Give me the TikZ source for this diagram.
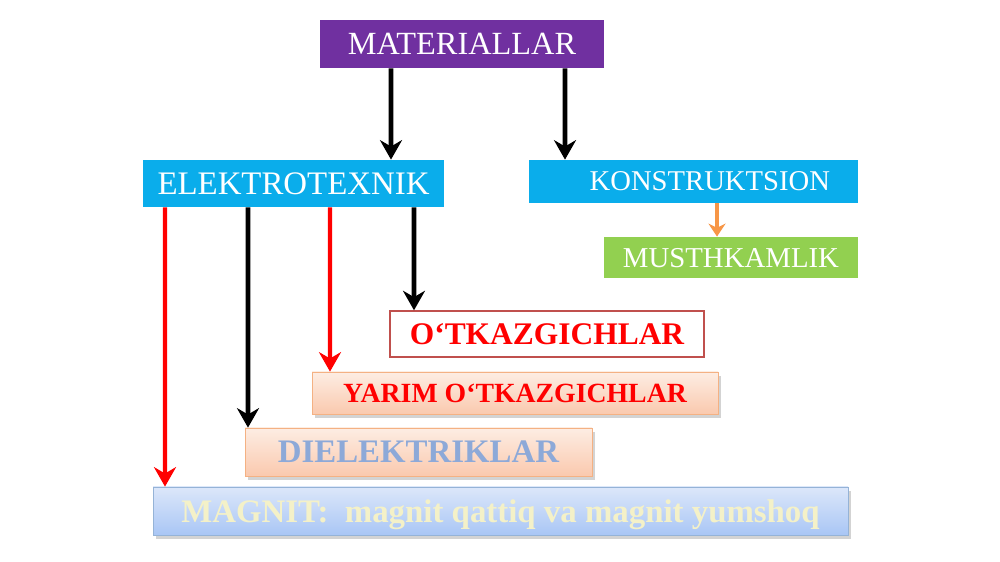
\documentclass[tikz,border=0pt]{standalone}
\usepackage{fontspec}
\setmainfont{Liberation Serif}
\usetikzlibrary{arrows.meta, shadows}

\definecolor{matpurple}{HTML}{7030A0}
\definecolor{secblue}{HTML}{0AADEB}
\definecolor{strgreen}{HTML}{92D050}
\definecolor{arrorange}{HTML}{F79646}
\definecolor{otkborder}{HTML}{C0504D}
\definecolor{peachtop}{HTML}{FDEDE3}
\definecolor{peachbot}{HTML}{FAC9AE}
\definecolor{peachborder}{HTML}{F4B183}
\definecolor{dieltext}{HTML}{8DA9D8}
\definecolor{magtop}{HTML}{DCE7FA}
\definecolor{magbot}{HTML}{A9C6F5}
\definecolor{magborder}{HTML}{95B3D7}
\definecolor{magtext}{HTML}{F4F1C8}

\begin{document}
\begin{tikzpicture}[
  every node/.style={inner sep=0pt, align=center, text depth=0pt},
  flatbox/.style={fill=#1, text=white},
  peachbox/.style={draw=peachborder, top color=peachtop, bottom color=peachbot,
    drop shadow={shadow xshift=0.6mm, shadow yshift=-0.8mm, opacity=0.35}},
  arrow/.style={-{Stealth[length=3.9mm, width=4.4mm]}, line width=2.8pt},
  redarrow/.style={arrow, red, line width=2.3pt}
]
\useasboundingbox (0,0) rectangle (20,-11.24);

% top level
\node[flatbox=matpurple, minimum width=5.68cm, minimum height=0.96cm,
  font=\fontsize{18.4}{21}\selectfont] (mat) at (9.24,-0.88) {MATERIALLAR};

% two groups
\node[flatbox=secblue, minimum width=6.02cm, minimum height=0.94cm,
  font=\fontsize{18.7}{22}\selectfont] (elek) at (5.87,-3.67) {ELEKTROTEXNIK};
\node[flatbox=secblue, minimum width=6.58cm, minimum height=0.86cm,
  text width=5.46cm, align=right,
  font=\fontsize{16.3}{19}\selectfont] (kon) at (13.87,-3.63) {KONSTRUKTSION};
\node[flatbox=strgreen, minimum width=5.08cm, minimum height=0.82cm,
  font=\fontsize{16.4}{19}\selectfont] (mus) at (14.62,-5.15) {MUSTHKAMLIK};

% electrotechnical materials
\node[draw=otkborder, line width=0.8pt, fill=white, text=red, minimum width=6.28cm,
  minimum height=0.92cm, font=\bfseries\fontsize{17.9}{21}\selectfont]
  (otk) at (10.94,-6.68) {O‘TKAZGICHLAR};
\node[peachbox, text=red, minimum width=8.12cm, minimum height=0.84cm,
  font=\bfseries\fontsize{15.8}{19}\selectfont]
  (yarim) at (10.30,-7.86) {YARIM O‘TKAZGICHLAR};
\node[peachbox, text=dieltext, minimum width=6.94cm, minimum height=0.96cm,
  font=\bfseries\fontsize{18.7}{22}\selectfont]
  (diel) at (8.37,-9.04) {DIELEKTRIKLAR};
\node[draw=magborder, top color=magtop, bottom color=magbot, text=magtext,
  drop shadow={shadow xshift=0.6mm, shadow yshift=-0.8mm, opacity=0.35},
  minimum width=13.9cm, minimum height=0.96cm,
  font=\bfseries\fontsize{18.7}{22}\selectfont]
  (mag) at (10.01,-10.22) {MAGNIT:~ magnit qattiq va magnit yumshoq};

% connectors
\draw[arrow] ([xshift=-1.42cm]mat.south) -- ([xshift=1.95cm]elek.north);
\draw[arrow] ([xshift=2.06cm]mat.south) -- ([xshift=-2.57cm]kon.north);
\draw[redarrow] ([xshift=-2.57cm]elek.south) -- ([xshift=-6.71cm]mag.north);
\draw[arrow] ([xshift=-0.91cm]elek.south) -- ([xshift=-3.41cm]diel.north);
\draw[redarrow] ([xshift=0.73cm]elek.south) -- ([xshift=-3.70cm]yarim.north);
\draw[arrow] ([xshift=2.41cm]elek.south) -- ([xshift=-2.66cm]otk.north);
\draw[arrow, arrorange, line width=2.2pt, -{Stealth[length=2.6mm, width=3.4mm]}]
  ([xshift=0.47cm]kon.south) -- ([xshift=-0.28cm]mus.north);
\end{tikzpicture}
\end{document}
